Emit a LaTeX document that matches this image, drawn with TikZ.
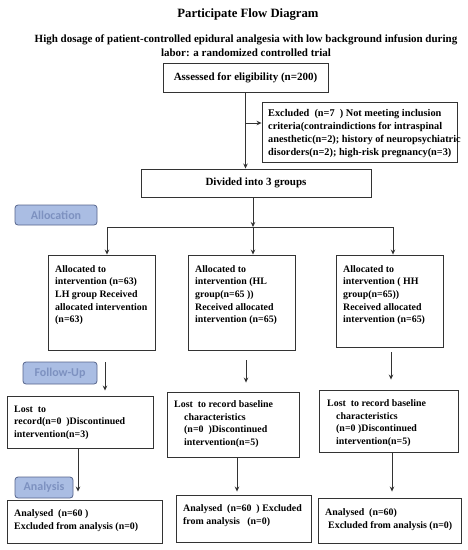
\documentclass[tikz,border=0pt]{standalone}
\usepackage{fontspec}
\setmainfont{Liberation Serif}
\newfontfamily\lblfont{Carlito}
\usetikzlibrary{arrows.meta,calc}
\definecolor{lblfill}{HTML}{AABDE3}
\definecolor{lbltext}{HTML}{7D91C0}
\definecolor{lbldraw}{HTML}{56658C}
\definecolor{linec}{HTML}{333333}
\newcommand{\boxfont}{\fontsize{9.9}{12.7}\selectfont\bfseries}
\begin{document}
\begin{tikzpicture}[x=1pt,y=-1pt,
  box/.style={draw=linec, line width=0.9pt, inner sep=0pt},
  txt/.style={anchor=north west, inner sep=0pt, align=left, font=\boxfont},
  ctxt/.style={inner sep=0pt, font=\fontsize{11}{13}\selectfont\bfseries},
  lbl/.style={draw=lbldraw, fill=lblfill, rounded corners=3pt, line width=0.8pt, inner sep=0pt,
    text=lbltext, font=\lblfont\fontsize{12}{13}\selectfont\bfseries},
  arr/.style={draw=linec, line width=0.8pt, -{Stealth[length=5pt,width=4.5pt]}},
  ln/.style={draw=linec, line width=0.8pt}]
\useasboundingbox (0,0) rectangle (467,550);
\fill[white] (0,0) rectangle (467,550);

% titles
\node[inner sep=0pt, font=\fontsize{12.7}{14}\selectfont\bfseries] (title) at (248,14) {Participate Flow Diagram};
\node[inner sep=0pt, align=center, font=\fontsize{11}{14}\selectfont\bfseries] (sub) at (246,46)
  {High dosage of patient-controlled epidural analgesia with low background infusion during\\labor: a randomized controlled trial};

% boxes
\node[box, minimum width=165pt, minimum height=29pt] (assess) at (245.5,77.5) {};
\node[ctxt] (assesst) at (assess.center) {Assessed for eligibility (n=200)};
\node[box, minimum width=195pt, minimum height=60pt] (excl) at (359.5,132) {};
\node[txt, font=\fontsize{10.3}{13.2}\selectfont\bfseries] (exclt) at (268,109) {Excluded\ \ (n=7\ \ )\ Not meeting inclusion\\criteria(contraindictions for intraspinal\\anesthetic(n=2); history of neuropsychiatric\\disorders(n=2); high-risk pregnancy(n=3)};
\node[box, minimum width=230pt, minimum height=28pt] (divide) at (256,183) {};
\node[ctxt] (dividet) at (divide.center) {Divided into 3 groups};

\node[box, minimum width=107pt, minimum height=95pt] (lh1) at (101.5,302.5) {};
\node[txt] (lh1t) at (55,265) {Allocated to\\intervention (n=63)\\LH group Received\\allocated intervention\\(n=63)};
\node[box, minimum width=107pt, minimum height=95pt] (hl1) at (241.5,302.5) {};
\node[txt] (hl1t) at (195,265) {Allocated to\\intervention (HL\\group(n=65 ))\\Received allocated\\intervention (n=65)};
\node[box, minimum width=107pt, minimum height=92pt] (hh1) at (389.5,301) {};
\node[txt] (hh1t) at (343,265) {Allocated to\\intervention ( HH\\group(n=65))\\Received allocated\\intervention (n=65)};

\node[box, minimum width=146pt, minimum height=52pt] (lh2) at (80,422) {};
\node[txt] (lh2t) at (14,405.5) {Lost\ \ to\\record(n=0\ \ )Discontinued\\intervention(n=3)};
\node[box, minimum width=132pt, minimum height=65pt] (hl2) at (233,424.5) {};
\node[txt] (hl2t) at (174,400.5) {Lost\ \ to record baseline\\\hspace*{10pt}characteristics\\\hspace*{10pt}(n=0\ \ )Discontinued\\\hspace*{10pt}intervention(n=5)};
\node[box, minimum width=139pt, minimum height=62pt] (hh2) at (388.5,421) {};
\node[txt] (hh2t) at (327,399.5) {Lost\ \ to record baseline\\\hspace*{9pt}characteristics\\\hspace*{9pt}(n=0 )Discontinued\\\hspace*{9pt}intervention(n=5)};

\node[box, minimum width=155pt, minimum height=43pt] (lh3) at (84.5,521.5) {};
\node[txt] (lh3t) at (14,509.5) {Analysed\ \ (n=60 )\\Excluded from analysis (n=0)};
\node[box, minimum width=135pt, minimum height=47pt] (hl3) at (243.5,518.5) {};
\node[txt] (hl3t) at (183,504.5) {Analysed\ \ (n=60\ \ ) Excluded\\from analysis\ \ \ (n=0)};
\node[box, minimum width=143pt, minimum height=45pt] (hh3) at (389.5,520.5) {};
\node[txt] (hh3t) at (325,508.5) {Analysed\ \ (n=60)\\\hspace*{3pt}Excluded from analysis (n=0)};

% phase labels
\node[lbl, minimum width=82pt, minimum height=20pt] (alloc) at (56,215) {Allocation};
\node[lbl, minimum width=74pt, minimum height=22pt] (follow) at (60,373) {Follow-Up};
\node[lbl, minimum width=58pt, minimum height=21pt] (analysis) at (44,487.5) {Analysis};

% connectors
\draw[arr] (assess.south) -- (assess.south |- divide.north);
\coordinate (ex) at (245.5,123);
\draw[arr] (ex) -- (ex -| excl.west);
\coordinate (br) at (253,227);
\coordinate (bl) at (107,227);
\coordinate (bh) at (393,227);
\draw[arr] (divide.south -| br) -- (br);
\draw[ln] (bl) -- (bh);
\draw[arr] (bl) -- (bl |- lh1.north);
\draw[arr] (br) -- (br |- hl1.north);
\draw[arr] (bh) -- (bh |- hh1.north);

\draw[arr, shorten <=12pt, shorten >=5pt] ($(lh1.south)+(3.5,0)$) coordinate (p1) -- (p1 |- lh2.north);
\draw[arr, shorten <=10pt, shorten >=9pt] ($(hl1.south)+(4.5,0)$) coordinate (p2) -- (p2 |- hl2.north);
\draw[arr, shorten <=5pt, shorten >=10pt] ($(hh1.south)+(1.5,0)$) coordinate (p3) -- (p3 |- hh2.north);

\draw[arr, shorten >=8pt] ($(lh2.south)+(-2,0)$) coordinate (q1) -- (q1 |- lh3.north);
\draw[arr, shorten >=3pt] ($(hl2.south)+(4,0)$) coordinate (q2) -- (q2 |- hl3.north);
\draw[arr, shorten >=6pt] ($(hh2.south)+(3.5,0)$) coordinate (q3) -- (q3 |- hh3.north);
\end{tikzpicture}
\end{document}
